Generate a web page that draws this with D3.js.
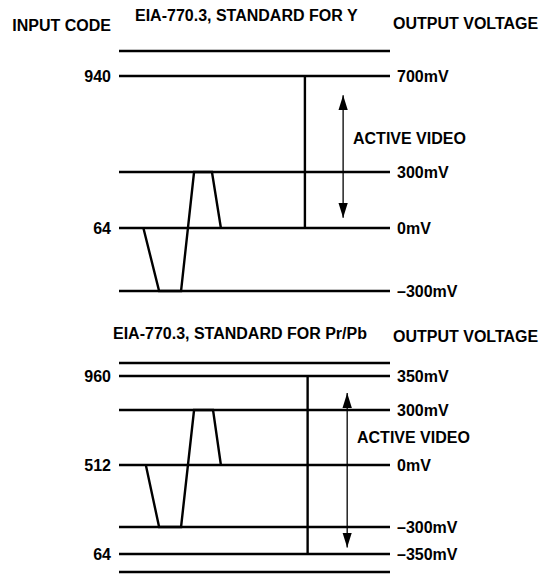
<!DOCTYPE html>
<html>
<head>
<meta charset="utf-8">
<script src="https://cdn.jsdelivr.net/npm/d3@7"></script>
<style>
  body { margin: 0; background: #fff; }
  text { font-family: "Liberation Sans", Arial, sans-serif; font-weight: bold; font-size: 16px; fill: #000; }
</style>
</head>
<body>
<svg class="s1" width="551" height="576"></svg>
<script>
	// ---- data: levels in mV, codes on the left, labels on the right ----
	var yLevels   = [800, 700, 300, 0, -300];
	var yCodes    = ["", "940", "", "64", ""];
	var yVolts    = ["", "700mV", "300mV", "0mV", "\u2013300mV"];
	var yWave     = [[9, 0], [14.8, -300], [22.9, -300], [27.7, 300], [34.3, 300], [37.6, 0]];
	var yActive   = {x: 68.6, from: 0, to: 700};
	var yArrow    = {x: 82.7, from: 55, to: 620};

	var pLevels   = [400, 350, 300, 0, -300, -350, -400];
	var pCodes    = ["", "960", "", "512", "", "64", ""];
	var pVolts    = ["", "350mV", "300mV", "0mV", "\u2013300mV", "\u2013350mV", ""];
	var pWave     = [[9.9, 0], [14.8, -300], [22.9, -300], [27.7, 300], [34.7, 300], [37.6, 0]];
	var pActive   = {x: 69.6, from: -350, to: 350};
	var pArrow    = {x: 84.2, from: -338, to: 325};

	var svg = d3.select("svg.s1");
	var defs = svg.append("defs");

	// arrow heads, one for each end
	function addHead(id, d, refX) {
		defs.append("marker")
			.attr("id", id)
			.attr("viewBox", "0 0 16 10")
			.attr("refX", refX).attr("refY", 5)
			.attr("markerWidth", 15).attr("markerHeight", 9.5)
			.attr("markerUnits", "userSpaceOnUse")
			.attr("orient", "auto")
			.append("path")
			.attr("d", d)
			.attr("fill", "#000");
	}
	addHead("head", "M0,0L16,5L0,10Z", 16);
	addHead("headRev", "M16,0L0,5L16,10Z", 0);

	// horizontal scale, shared by both panels
	var x = d3.scaleLinear().domain([0, 100]).range([119, 390]);

	// piecewise scales (the drawing is not to scale)
	var yTop = d3.scaleLinear().domain([-300, 0, 300, 700, 800]).range([291, 228, 172, 76, 51]);
	var yBot = d3.scaleLinear().domain([-400, -350, -300, 0, 300, 350, 400]).range([572, 554, 527, 465, 410, 376, 363]);

	var line = d3.line()
		.x(function(d) { return x(d[0]); });

	function drawPanel(levels, codes, volts, wave, active, arrow, y) {
		var g = svg.append("g");

		g.selectAll("line.level")
			.data(levels)
			.enter().append("line")
			.attr("class", "level")
			.attr("x1", x(0)).attr("x2", x(100))
			.attr("y1", function(d) { return y(d); })
			.attr("y2", function(d) { return y(d); })
			.attr("stroke", "#000")
			.attr("stroke-width", 2.4);

		g.selectAll("text.code")
			.data(levels)
			.enter().append("text")
			.attr("class", "code")
			.attr("x", 111)
			.attr("y", function(d) { return y(d); })
			.attr("dy", "0.36em")
			.attr("text-anchor", "end")
			.text(function(d, i) { return codes[i]; });

		g.selectAll("text.volt")
			.data(levels)
			.enter().append("text")
			.attr("class", "volt")
			.attr("x", 397)
			.attr("y", function(d) { return y(d); })
			.attr("dy", "0.36em")
			.text(function(d, i) { return volts[i]; });

		g.append("path")
			.attr("d", line.y(function(d) { return y(d[1]); })(wave))
			.attr("fill", "none")
			.attr("stroke", "#000")
			.attr("stroke-width", 2.4)
			.attr("stroke-linejoin", "miter");

		g.append("line")
			.attr("x1", x(active.x)).attr("x2", x(active.x))
			.attr("y1", y(active.from)).attr("y2", y(active.to))
			.attr("stroke", "#000")
			.attr("stroke-width", 2.4);

		g.append("line")
			.attr("x1", x(arrow.x)).attr("x2", x(arrow.x))
			.attr("y1", y(arrow.from)).attr("y2", y(arrow.to))
			.attr("stroke", "#000")
			.attr("stroke-width", 1.3)
			.attr("marker-start", "url(#headRev)")
			.attr("marker-end", "url(#head)");

		return g;
	}

	drawPanel(yLevels, yCodes, yVolts, yWave, yActive, yArrow, yTop);
	drawPanel(pLevels, pCodes, pVolts, pWave, pActive, pArrow, yBot);

	// titles
	svg.append("text").attr("x", 111).attr("y", 25).attr("dy", "0.36em").attr("text-anchor", "end").text("INPUT CODE");
	svg.append("text").attr("x", 135).attr("y", 15).attr("dy", "0.36em").text("EIA-770.3, STANDARD FOR Y");
	svg.append("text").attr("x", 393).attr("y", 23).attr("dy", "0.36em").text("OUTPUT VOLTAGE");
	svg.append("text").attr("x", 353).attr("y", 138).attr("dy", "0.36em").text("ACTIVE VIDEO");

	svg.append("text").attr("x", 113).attr("y", 333).attr("dy", "0.36em").text("EIA-770.3, STANDARD FOR Pr/Pb");
	svg.append("text").attr("x", 393).attr("y", 336).attr("dy", "0.36em").text("OUTPUT VOLTAGE");
	svg.append("text").attr("x", 357).attr("y", 437).attr("dy", "0.36em").text("ACTIVE VIDEO");
</script>
</body>
</html>
